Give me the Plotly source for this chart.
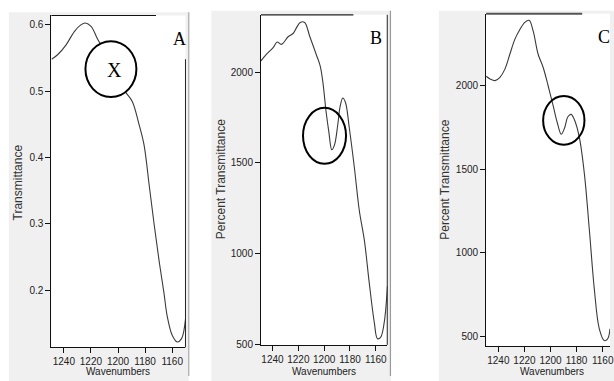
import plotly.graph_objects as go

W, H = 614, 381

# ---------------- data ----------------
a_wn = [1249.0, 1244.4, 1238.2, 1232.1, 1227.2, 1224.1, 1219.9, 1215.0, 1210.0, 1205.0, 1200.0,
        1194.2, 1189.4, 1184.4, 1180.8, 1177.1, 1173.4, 1169.8, 1166.1, 1163.7, 1160.0,
        1156.3, 1153.1, 1150.2]
a_t = [0.548, 0.555, 0.570, 0.590, 0.600, 0.6025, 0.5975, 0.578, 0.560, 0.540, 0.520,
       0.498, 0.484, 0.449, 0.419, 0.360, 0.300, 0.246, 0.196, 0.161, 0.132,
       0.122, 0.127, 0.156]

b_wn = [1248.9, 1244.6, 1239.5, 1236.4, 1233.1, 1227.9, 1224.1, 1221.5, 1218.5, 1215.1,
        1211.2, 1206.2, 1203.1, 1201.0, 1198.5, 1196.4, 1194.1, 1192.0, 1189.5, 1187.7,
        1185.6, 1183.5, 1180.5, 1176.6, 1172.8, 1168.9, 1165.1, 1161.2, 1158.7, 1156.2,
        1153.5, 1151.0]
b_t = [2061, 2098, 2134, 2165, 2152, 2194, 2212, 2243, 2273, 2273,
       2197, 2098, 2034, 1944, 1781, 1672, 1572, 1599, 1708, 1808,
       1857, 1832, 1690, 1473, 1237, 1074, 839, 621, 531, 540,
       621, 821]

c_wn = [1249.4, 1246.4, 1242.6, 1238.8, 1235.0, 1231.2, 1227.4, 1223.5, 1219.7, 1216.4,
        1213.3, 1209.5, 1205.7, 1201.9, 1198.1, 1195.0, 1191.8, 1189.3, 1186.7, 1184.2,
        1181.6, 1177.8, 1174.0, 1170.2, 1166.4, 1162.6, 1158.8, 1156.2, 1154.4]
c_t = [2057, 2041, 2031, 2051, 2100, 2189, 2278, 2337, 2380, 2392,
       2327, 2189, 2111, 2002, 1884, 1785, 1710, 1746, 1815, 1829,
       1795, 1687, 1470, 1135, 781, 545, 475, 485, 546]

x_ticks = [1240, 1220, 1200, 1180, 1160]
a_yticks = [0.2, 0.3, 0.4, 0.5, 0.6]
a_yticklabels = ["0.2", "0.3", "0.4", "0.5", "0.6"]
bc_yticks = [500, 1000, 1500, 2000]
bc_yticklabels = ["500", "1000", "1500", "2000"]

panel_labels = ["A", "B", "C"]
a_ytitle = "Transmittance"
bc_ytitle = "Percent Transmittance"
x_title = "Wavenumbers"

# ---------------- layout helpers ----------------
def fx(px):
    return px / W

def fy(py):
    return 1 - py / H

SANS = "Liberation Sans, Arial, sans-serif"
SERIF = "Liberation Serif, Times New Roman, serif"
LINE = "#3a3a3a"

fig = go.Figure()

fig.add_trace(go.Scatter(x=a_wn, y=a_t, mode="lines", line=dict(color=LINE, width=1.1, shape="spline"),
                         xaxis="x", yaxis="y", showlegend=False))
fig.add_trace(go.Scatter(x=b_wn, y=b_t, mode="lines", line=dict(color=LINE, width=1.1, shape="spline"),
                         xaxis="x2", yaxis="y2", showlegend=False))
fig.add_trace(go.Scatter(x=c_wn, y=c_t, mode="lines", line=dict(color=LINE, width=1.1, shape="spline"),
                         xaxis="x3", yaxis="y3", showlegend=False))

panels = [
    dict(l=51.7, r=186.7, t=15.7, b=352.0, xr=[1249.2, 1150.2], yr=[0.1138, 0.6138],
         tv=a_yticks, tt=a_yticklabels),
    dict(l=262.7, r=390.0, t=15.0, b=349.5, xr=[1248.9, 1151.0], yr=[497, 2315],
         tv=bc_yticks, tt=bc_yticklabels),
    dict(l=489.3, r=614.0, t=14.0, b=350.7, xr=[1249.4, 1154.4], yr=[442, 2431],
         tv=bc_yticks, tt=bc_yticklabels),
]

axis_common = dict(showgrid=False, zeroline=False, showline=True, linecolor="#111", linewidth=1,
                   ticks="outside", ticklen=5, tickcolor="#111", tickwidth=1, tickangle=0,
                   ticklabeloverflow="allow",
                   tickfont=dict(family=SANS, size=10, color="#222"))

layout = dict(width=W, height=H, margin=dict(l=0, r=0, t=0, b=0), autosize=False,
              paper_bgcolor="white", plot_bgcolor="rgba(0,0,0,0)", showlegend=False)

for i, p in enumerate(panels):
    sx = "" if i == 0 else str(i + 1)
    layout["xaxis" + sx] = dict(domain=[fx(p["l"]), fx(p["r"])], range=p["xr"], anchor="y" + sx,
                                tickvals=x_ticks, ticktext=[str(v) for v in x_ticks], **axis_common)
    layout["yaxis" + sx] = dict(domain=[fy(p["b"]), fy(p["t"])], range=p["yr"], anchor="x" + sx,
                                tickvals=p["tv"], ticktext=p["tt"], **axis_common)

fig.update_layout(**layout)

shapes = []
for (l, t, r) in [(9, 12.5, 190), (212.7, 11, 393.5), (441.7, 11, 640)]:
    shapes.append(dict(type="rect", xref="paper", yref="paper", x0=fx(l), x1=fx(r), y0=fy(H + 5), y1=fy(t),
                       fillcolor="#f0f0f0", line=dict(width=0), layer="below"))
for p in panels:
    shapes.append(dict(type="rect", xref="paper", yref="paper", x0=fx(p["l"]), x1=fx(p["r"]),
                       y0=fy(p["b"]), y1=fy(p["t"]), fillcolor="white", line=dict(width=0), layer="below"))
for (x, y0, y1, col, wd) in [(190, 12.5, 381, "#a8a8a8", 1.2), (186.7, 60, 352, "#222", 1),
                             (389.8, 15, 349.5, "#222", 1), (393, 11, 381, "#9a9a9a", 1.2)]:
    shapes.append(dict(type="line", xref="paper", yref="paper", x0=fx(x), x1=fx(x), y0=fy(y0), y1=fy(y1),
                       line=dict(color=col, width=wd), layer="above"))
for (x0, x1, y, col, wd) in [(51.7, 157, 15.7, "#111", 1.2), (262.7, 355.7, 15.0, "#222", 1.2),
                             (489.3, 586, 14.0, "#555", 2)]:
    shapes.append(dict(type="line", xref="paper", yref="paper", x0=fx(x0), x1=fx(x1), y0=fy(y), y1=fy(y),
                       line=dict(color=col, width=wd), layer="above"))
shapes.append(dict(type="circle", xref="paper", yref="paper", x0=fx(86), x1=fx(137.3), y0=fy(98.3), y1=fy(41.7),
                   fillcolor="white", line=dict(color="black", width=2), layer="above"))
shapes.append(dict(type="circle", xref="paper", yref="paper", x0=fx(305), x1=fx(348.3), y0=fy(166), y1=fy(109.3),
                   line=dict(color="black", width=2), layer="above"))
shapes.append(dict(type="circle", xref="paper", yref="paper", x0=fx(546.7), x1=fx(588.3), y0=fy(146.7), y1=fy(97.3),
                   line=dict(color="black", width=2), layer="above"))

annotations = []
for lab, (x, y) in zip(panel_labels, [(180.8, 39.5), (378.3, 38.5), (607.8, 37)]):
    annotations.append(dict(text=lab, x=fx(x), y=fy(y), xref="paper", yref="paper", showarrow=False,
                            xanchor="center", yanchor="middle", font=dict(family=SERIF, size=18, color="black")))
annotations.append(dict(text="X", x=fx(115.5), y=fy(70.5), xref="paper", yref="paper", showarrow=False,
                        xanchor="center", yanchor="middle", font=dict(family=SERIF, size=20, color="black")))
for cx in [118.5, 326.5, 555.5]:
    annotations.append(dict(text=x_title, x=fx(cx), y=fy(376.5), xref="paper", yref="paper", showarrow=False,
                            xanchor="center", yanchor="middle", font=dict(family=SANS, size=10, color="#222")))
for t, (x, y) in zip([a_ytitle, bc_ytitle, bc_ytitle], [(18, 185), (222, 182), (448, 182)]):
    annotations.append(dict(text=t, x=fx(x), y=fy(y), xref="paper", yref="paper", showarrow=False, textangle=-90,
                            xanchor="center", yanchor="middle", font=dict(family=SANS, size=12, color="#333")))

fig.update_layout(shapes=shapes, annotations=annotations)
fig.write_html("out.html")
